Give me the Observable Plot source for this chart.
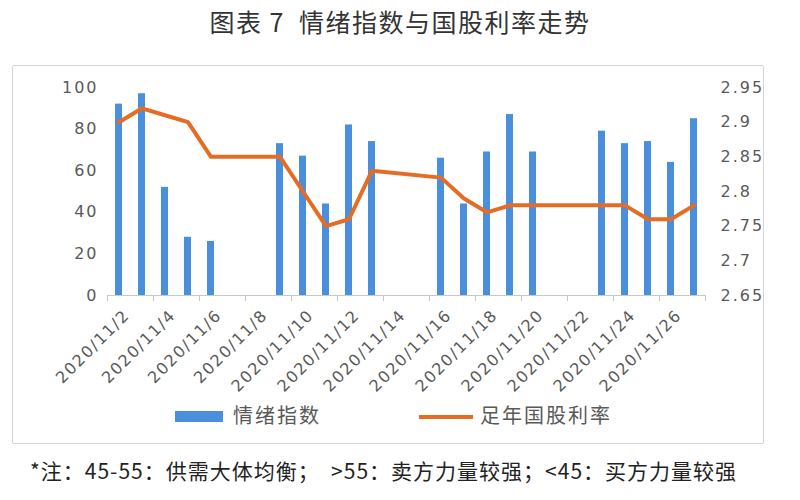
<!DOCTYPE html>
<html>
<head>
<meta charset="utf-8">
<script src="https://cdn.jsdelivr.net/npm/d3@7"></script>
<script src="https://cdn.jsdelivr.net/npm/@observablehq/plot@0.6"></script>
<style>
  html, body { margin: 0; padding: 0; background: #fff; }
  body { width: 800px; height: 500px; position: relative; overflow: hidden; font-family: "Noto Sans CJK SC", sans-serif; }
  #title { position: absolute; left: 0; top: 3px; width: 800px; text-align: center; font-size: 25px; letter-spacing: 1.5px; color: #333; }
  #box { position: absolute; left: 12px; top: 65px; width: 752px; height: 379px; border: 1px solid #d6d6d6; border-radius: 2px; box-sizing: border-box; }
  #chart { position: absolute; left: 0; top: 60px; }
  #chart svg text { letter-spacing: 2px; }
  #chart svg g.xlab text { letter-spacing: 1.6px; }
  .leg { position: absolute; font-size: 20px; color: #595959; line-height: 22px; letter-spacing: 2px; }
  #note { position: absolute; left: 30px; top: 455px; font-size: 21px; letter-spacing: 1px; color: #222; white-space: nowrap; }
</style>
</head>
<body>
<div id="title">图表 7&nbsp;&nbsp;情绪指数与国股利率走势</div>
<div id="box"></div>
<div id="chart"></div>
<div style="position:absolute;left:175px;top:411px;width:48px;height:11px;background:#4A8FDB"></div>
<div class="leg" style="left:233px;top:404px">情绪指数</div>
<div style="position:absolute;left:419px;top:415px;width:54px;height:4px;background:#E46C25"></div>
<div class="leg" style="left:480px;top:404px">足年国股利率</div>
<div id="note">*注：45-55：供需大体均衡；&nbsp;&nbsp;&gt;55：卖方力量较强；&lt;45：买方力量较强</div>
<script>
const days = ["2020-11-02","2020-11-03","2020-11-04","2020-11-05","2020-11-06",
  "2020-11-09","2020-11-10","2020-11-11","2020-11-12","2020-11-13",
  "2020-11-16","2020-11-17","2020-11-18","2020-11-19","2020-11-20",
  "2020-11-23","2020-11-24","2020-11-25","2020-11-26","2020-11-27"];
const sentiment = [92, 97, 52, 28, 26, 73, 67, 44, 82, 74, 66, 44, 69, 87, 69, 79, 73, 74, 64, 85];
const rate = [2.90, 2.92, 2.91, 2.90, 2.85, 2.85, 2.80, 2.75, 2.76, 2.83, 2.82, 2.79, 2.77, 2.78, 2.78, 2.78, 2.78, 2.76, 2.76, 2.78];
const tickLabels = ["2020/11/2","2020/11/4","2020/11/6","2020/11/8","2020/11/10","2020/11/12","2020/11/14",
  "2020/11/16","2020/11/18","2020/11/20","2020/11/22","2020/11/24","2020/11/26"];
const leftTicks = [0, 20, 40, 60, 80, 100];
const rateTicks = [2.65, 2.7, 2.75, 2.8, 2.85, 2.9, 2.95];
const rateTickLabels = ["2.65", "2.7", "2.75", "2.8", "2.85", "2.9", "2.95"];

const parse = d3.utcParse("%Y-%m-%d");
const parseLabel = d3.utcParse("%Y/%m/%d");
const data = days.map((d, i) => ({date: parse(d), sentiment: sentiment[i], rate: rate[i]}));
const noon = d => d3.utcHour.offset(d, 12);
const start = parse("2020-11-02");
const end = parse("2020-11-28");
const boundaryTicks = d3.utcDay.range(start, d3.utcDay.offset(end, 1), 2);
const labelDates = tickLabels.map(s => noon(parseLabel(s)));
const rateToY = d3.scaleLinear([2.65, 2.95], [0, 100]);

const chart = Plot.plot({
  width: 800, height: 360,
  marginTop: 27, marginBottom: 125, marginLeft: 107, marginRight: 95,
  x: {type: "utc", domain: [start, end]},
  y: {domain: [0, 100]},
  style: {fontFamily: "DejaVu Sans", fontSize: "16px", color: "#595959", background: "transparent"},
  marks: [
    Plot.axisY({ticks: leftTicks, tickSize: 0, tickPadding: 9, label: null, tickFormat: d => String(d)}),
    Plot.axisY({anchor: "right", ticks: rateTicks.map(rateToY), tickSize: 0, tickPadding: 15, label: null,
      tickFormat: (v, i) => rateTickLabels[i]}),
    Plot.rectY(data, {x: "date", y: "sentiment", interval: d3.utcDay, insetLeft: 8, insetRight: 8, fill: "#4A8FDB"}),
    Plot.ruleY([0], {stroke: "#c8c8c8", strokeWidth: 1}),
    Plot.axisX({ticks: boundaryTicks, tickFormat: () => "", tickSize: 6, stroke: "#c8c8c8", label: null}),
    Plot.axisX({ticks: labelDates, tickFormat: (d, i) => tickLabels[i], tickSize: 0, tickPadding: 17, dx: 8,
      tickRotate: -45, label: null, fontSize: 16, className: "xlab"}),
    Plot.line(data, {x: d => noon(d.date), y: d => rateToY(d.rate), stroke: "#E46C25", strokeWidth: 4, strokeLinejoin: "round"})
  ]
});
document.getElementById("chart").appendChild(chart);
</script>
</body>
</html>
